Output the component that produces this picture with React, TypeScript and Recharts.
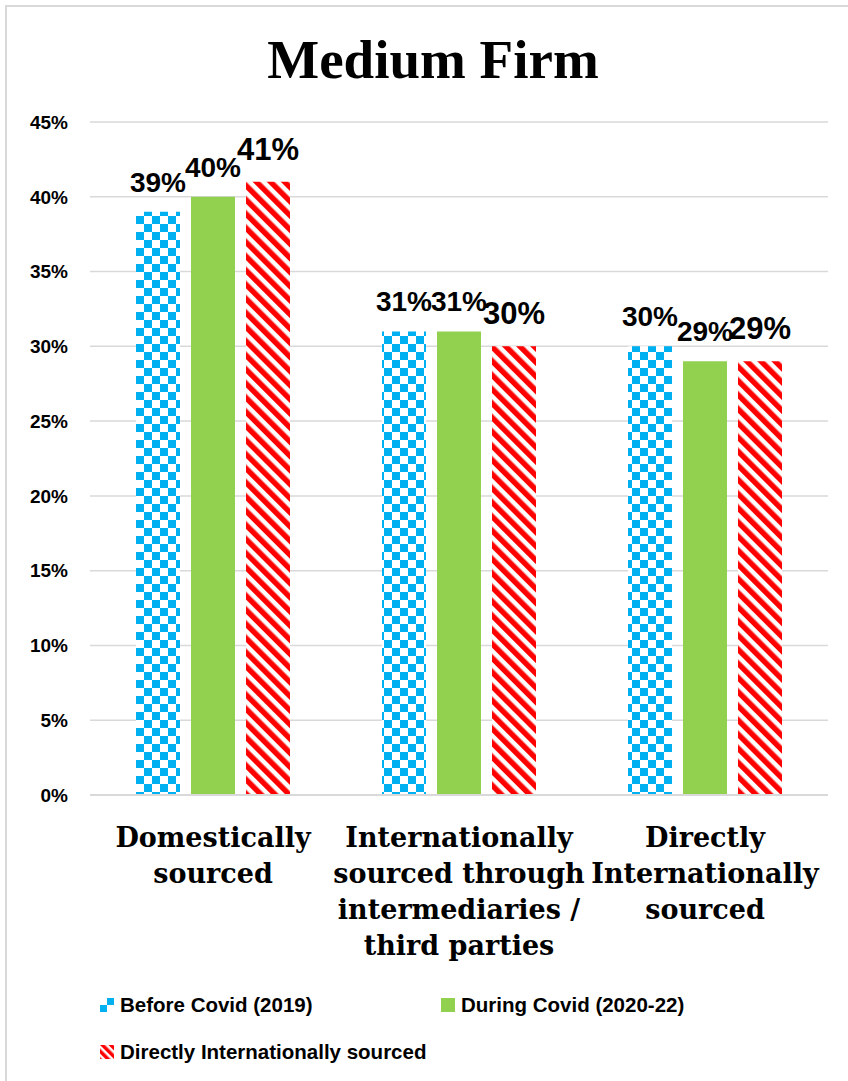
import { BarChart, Bar, XAxis, YAxis, CartesianGrid, LabelList, Legend } from "recharts";

const categories = [
  "Domestically sourced",
  "Internationally sourced through intermediaries / third parties",
  "Directly Internationally sourced",
];
const categoryLines = [
  ["Domestically", "sourced"],
  ["Internationally", "sourced through", "intermediaries /", "third parties"],
  ["Directly", "Internationally", "sourced"],
];
const beforeCovid = [39, 31, 30];
const duringCovid = [40, 31, 29];
const directlyIntl = [41, 30, 29];
const yTicks = [0, 5, 10, 15, 20, 25, 30, 35, 40, 45];
const seriesNames = [
  "Before Covid (2019)",
  "During Covid (2020-22)",
  "Directly Internationally sourced",
];

const data = categories.map((name, i) => ({
  name,
  before: beforeCovid[i],
  during: duringCovid[i],
  direct: directlyIntl[i],
}));

const SANS = "'Liberation Sans', Arial, sans-serif";
const SERIF = "'DejaVu Serif', serif";
const TITLE_SERIF = "'Liberation Serif', 'Times New Roman', serif";

function CategoryTick({ x, y, payload }: any) {
  const idx = categories.indexOf(payload.value);
  const lines = categoryLines[idx] || [payload.value];
  return (
    <text
      textAnchor="middle"
      fontFamily={SERIF}
      fontWeight="bold"
      fontSize={27}
      fill="#000"
    >
      {lines.map((l, i) => (
        <tspan key={i} x={x} y={y + 44 + i * 36}>
          {l}
        </tspan>
      ))}
    </text>
  );
}

function LegendBox() {
  const item = (fill: string, label: string, left: number, top: number) => (
    <div
      style={{
        position: "absolute",
        left,
        top,
        display: "flex",
        alignItems: "center",
        fontFamily: SANS,
        fontWeight: "bold",
        fontSize: 20.5,
        color: "#000",
        whiteSpace: "nowrap",
      }}
    >
      <svg width={14} height={14} style={{ marginRight: 6 }}>
        <rect width={14} height={14} fill={fill} />
      </svg>
      {label}
    </div>
  );
  return (
    <div style={{ position: "relative", width: 848, height: 90 }}>
      {item("url(#legendChecker)", seriesNames[0], 100, 0)}
      {item("#92D050", seriesNames[1], 441, 0)}
      {item("url(#legendStripes)", seriesNames[2], 100, 47)}
    </div>
  );
}

export default function App() {
  return (
    <div style={{ position: "absolute", left: 0, top: 0, width: 848, height: 1081, background: "#fff" }}>
      <div
        style={{
          position: "absolute",
          left: 5,
          top: 5,
          width: 843,
          height: 1076,
          borderTop: "2px solid #d9d9d9",
          borderLeft: "2px solid #d9d9d9",
          boxSizing: "border-box",
        }}
      />
      <div
        style={{
          position: "absolute",
          left: 18,
          top: 32,
          width: 830,
          textAlign: "center",
          fontFamily: TITLE_SERIF,
          fontWeight: "bold",
          fontSize: 55,
          lineHeight: "55px",
          color: "#000",
        }}
      >
        Medium Firm
      </div>
      <BarChart
        width={848}
        height={1081}
        data={data}
        margin={{ top: 122, right: 20, left: 0, bottom: 86 }}
        barSize={44}
        barGap={11}
        style={{ position: "absolute", left: 0, top: 0 }}
      >
        <defs>
          <pattern id="checker" patternUnits="userSpaceOnUse" width={16} height={16}>
            <rect width={16} height={16} fill="#fff" />
            <rect x={0} y={0} width={8} height={8} fill="#00B0F0" />
            <rect x={8} y={8} width={8} height={8} fill="#00B0F0" />
          </pattern>
          <pattern
            id="stripes"
            patternUnits="userSpaceOnUse"
            width={10}
            height={10}
            patternTransform="rotate(-45)"
          >
            <rect width={10} height={10} fill="#fff" />
            <rect x={0} y={0} width={5.5} height={10} fill="#FF0000" />
          </pattern>
          <pattern id="legendChecker" patternUnits="userSpaceOnUse" width={14} height={14}>
            <rect width={14} height={14} fill="#fff" />
            <rect x={7} y={0} width={7} height={7} fill="#00B0F0" />
            <rect x={0} y={7} width={7} height={7} fill="#00B0F0" />
          </pattern>
          <pattern
            id="legendStripes"
            patternUnits="userSpaceOnUse"
            width={6}
            height={6}
            patternTransform="rotate(-45)"
          >
            <rect width={6} height={6} fill="#fff" />
            <rect x={0} y={0} width={3.5} height={6} fill="#FF0000" />
          </pattern>
        </defs>
        <CartesianGrid vertical={false} stroke="#d9d9d9" strokeWidth={1.5} />
        <XAxis
          dataKey="name"
          interval={0}
          height={200}
          axisLine={{ stroke: "#d9d9d9", strokeWidth: 2 }}
          tickLine={false}
          tick={<CategoryTick />}
        />
        <YAxis
          domain={[0, 45]}
          ticks={yTicks}
          width={90}
          axisLine={false}
          tickLine={false}
          tickMargin={16}
          tickFormatter={(v: number) => `${v}%`}
          tick={{ fill: "#000", fontSize: 19, fontWeight: "bold", fontFamily: SANS }}
        />
        <Legend
          layout="horizontal"
          verticalAlign="middle"
          align="center"
          wrapperStyle={{ top: 993, left: 0, width: 848 }}
          content={() => <LegendBox />}
        />
        <Bar dataKey="before" name={seriesNames[0]} fill="url(#checker)" isAnimationActive={false}>
          <LabelList
            dataKey="before"
            position="top"
            offset={20}
            formatter={(v: any) => `${v}%`}
            fill="#000"
            fontSize={28}
            fontWeight="bold"
            fontFamily={SANS}
          />
        </Bar>
        <Bar dataKey="during" name={seriesNames[1]} fill="#92D050" isAnimationActive={false}>
          <LabelList
            dataKey="during"
            position="top"
            offset={20}
            formatter={(v: any) => `${v}%`}
            fill="#000"
            fontSize={28}
            fontWeight="bold"
            fontFamily={SANS}
          />
        </Bar>
        <Bar dataKey="direct" name={seriesNames[2]} fill="url(#stripes)" isAnimationActive={false}>
          <LabelList
            dataKey="direct"
            position="top"
            offset={22}
            formatter={(v: any) => `${v}%`}
            fill="#000"
            fontSize={31}
            fontWeight="bold"
            fontFamily={SANS}
          />
        </Bar>
      </BarChart>
    </div>
  );
}
